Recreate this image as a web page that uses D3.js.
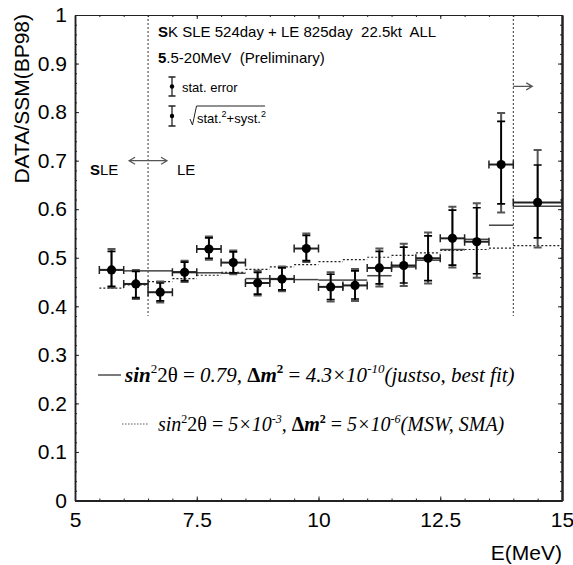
<!DOCTYPE html>
<html>
<head>
<meta charset="utf-8">
<script src="https://cdn.jsdelivr.net/npm/d3@7"></script>
<style>
  html, body { margin: 0; padding: 0; background: #fff; }
  svg { display: block; }
  text { white-space: pre; }
</style>
</head>
<body>
<svg id="chart" width="573" height="565"></svg>
<script>
// Super-Kamiokande SLE + LE energy spectrum, DATA/SSM(BP98) ratio per energy bin
const binCenter = [5.75, 6.25, 6.75, 7.25, 7.75, 8.25, 8.75, 9.25, 9.75, 10.25, 10.75, 11.25, 11.75, 12.25, 12.75, 13.25, 13.75, 14.5];
const binLow    = [5.5, 6.0, 6.5, 7.0, 7.5, 8.0, 8.5, 9.0, 9.5, 10.0, 10.5, 11.0, 11.5, 12.0, 12.5, 13.0, 13.5, 14.0];
const binHigh   = [6.0, 6.5, 7.0, 7.5, 8.0, 8.5, 9.0, 9.5, 10.0, 10.5, 11.0, 11.5, 12.0, 12.5, 13.0, 13.5, 14.0, 15.0];
const ratio     = [0.475, 0.446, 0.429, 0.470, 0.518, 0.490, 0.448, 0.456, 0.519, 0.440, 0.443, 0.479, 0.484, 0.499, 0.540, 0.533, 0.692, 0.614];
// stat. errors (inner caps)
const statUp    = [0.038, 0.026, 0.019, 0.021, 0.023, 0.022, 0.022, 0.023, 0.027, 0.026, 0.030, 0.034, 0.038, 0.046, 0.058, 0.070, 0.089, 0.077];
const statDn    = [0.034, 0.028, 0.018, 0.017, 0.019, 0.021, 0.023, 0.022, 0.025, 0.026, 0.028, 0.033, 0.036, 0.046, 0.055, 0.066, 0.081, 0.073];
// sqrt(stat^2 + syst^2) errors (outer caps)
const totUp     = [0.043, 0.029, 0.022, 0.024, 0.026, 0.025, 0.025, 0.026, 0.031, 0.030, 0.034, 0.040, 0.045, 0.053, 0.065, 0.079, 0.106, 0.108];
const totDn     = [0.037, 0.031, 0.021, 0.020, 0.022, 0.024, 0.026, 0.025, 0.028, 0.030, 0.032, 0.038, 0.042, 0.052, 0.060, 0.074, 0.099, 0.093];
// oscillation expectations per bin
const justsoBestFit = [0.475, 0.473, 0.473, 0.471, 0.469, 0.468, 0.457, 0.457, 0.455, 0.454, 0.454, 0.463, 0.481, 0.495, 0.517, 0.538, 0.567, 0.606];
const mswSMA        = [0.4375, 0.444, 0.451, 0.457, 0.464, 0.470, 0.476, 0.481, 0.486, 0.492, 0.496, 0.501, 0.505, 0.510, 0.515, 0.517, 0.520, 0.525];
// SLE / LE threshold and the upper analysis bin edge
const boundaryE = [6.5, 14.0];
const boundaryTop = 0.38;

const xTickLabels = [5, 7.5, 10, 12.5, 15];
const yTickLabels = [0, 0.1, 0.2, 0.3, 0.4, 0.5, 0.6, 0.7, 0.8, 0.9, 1];

const svg = d3.select("#chart");
const x = d3.scaleLinear().domain([5, 15]).range([75, 562]);
const y = d3.scaleLinear().domain([0, 1]).range([500.5, 15]);

const SANS = "'Liberation Sans', Arial, sans-serif";
const SERIF = "'Liberation Serif', 'Times New Roman', serif";

// ---- axes ----
function styleAxis(g, width) {
  g.select(".domain").attr("stroke", "#222").attr("stroke-width", width);
  g.selectAll(".tick line").attr("stroke", "#222").attr("stroke-width", 1);
}
const minorX = x.ticks(20);
const minorY = y.ticks(50);

// bottom
svg.append("g").attr("transform", `translate(0,${y(0)})`)
  .call(d3.axisBottom(x).tickValues(minorX).tickSizeInner(-2).tickSizeOuter(0).tickFormat(""))
  .call(g => styleAxis(g, 2));
svg.append("g").attr("transform", `translate(0,${y(0)})`)
  .call(d3.axisBottom(x).tickValues(xTickLabels).tickSizeInner(-4).tickSizeOuter(0).tickPadding(12)
    .tickFormat(d => String(d)))
  .call(g => styleAxis(g, 2))
  .call(g => g.selectAll("text").attr("font-family", SANS).attr("font-size", 21).attr("fill", "#000"));
// top
svg.append("g").attr("transform", `translate(0,${y(1)})`)
  .call(d3.axisTop(x).tickValues(minorX).tickSizeInner(-2).tickSizeOuter(0).tickFormat(""))
  .call(g => styleAxis(g, 1.2));
svg.append("g").attr("transform", `translate(0,${y(1)})`)
  .call(d3.axisTop(x).tickValues(xTickLabels).tickSizeInner(-4).tickSizeOuter(0).tickFormat(""))
  .call(g => styleAxis(g, 1.2));
// left
svg.append("g").attr("transform", `translate(${x(5)},0)`)
  .call(d3.axisLeft(y).tickValues(minorY).tickSizeInner(-2).tickSizeOuter(0).tickFormat(""))
  .call(g => styleAxis(g, 1.5));
svg.append("g").attr("transform", `translate(${x(5)},0)`)
  .call(d3.axisLeft(y).tickValues(yTickLabels).tickSizeInner(-4).tickSizeOuter(0).tickPadding(8)
    .tickFormat(d => String(d)))
  .call(g => styleAxis(g, 1.5))
  .call(g => g.selectAll("text").attr("font-family", SANS).attr("font-size", 21).attr("fill", "#000"));
// right
svg.append("g").attr("transform", `translate(${x(15)},0)`)
  .call(d3.axisRight(y).tickValues(minorY).tickSizeInner(-2).tickSizeOuter(0).tickFormat(""))
  .call(g => styleAxis(g, 2));
svg.append("g").attr("transform", `translate(${x(15)},0)`)
  .call(d3.axisRight(y).tickValues(yTickLabels).tickSizeInner(-4).tickSizeOuter(0).tickFormat(""))
  .call(g => styleAxis(g, 2));

// axis titles
svg.append("text")
  .attr("transform", `translate(29,${y(1) - 1}) rotate(-90)`)
  .attr("text-anchor", "end")
  .attr("font-family", SANS).attr("font-size", 21)
  .text("DATA/SSM(BP98)");
svg.append("text")
  .attr("x", x(15)).attr("y", 560)
  .attr("text-anchor", "end")
  .attr("font-family", SANS).attr("font-size", 21)
  .text("E(MeV)");

// ---- SLE/LE boundary and upper bin edge ----
svg.append("g").selectAll("line").data(boundaryE).join("line")
  .attr("x1", d => x(d)).attr("x2", d => x(d))
  .attr("y1", y(1)).attr("y2", y(boundaryTop))
  .attr("stroke", "#333").attr("stroke-width", 1).attr("stroke-dasharray", "2,2");

// ---- expectation step lines ----
const steps = svg.append("g");
steps.selectAll("line.sma").data(mswSMA).join("line").attr("class", "sma")
  .attr("x1", (d, i) => x(binLow[i])).attr("x2", (d, i) => x(binHigh[i]))
  .attr("y1", d => y(d)).attr("y2", d => y(d))
  .attr("stroke", "#222").attr("stroke-width", 1.2).attr("stroke-dasharray", "2,2");
steps.selectAll("line.js").data(justsoBestFit).join("line").attr("class", "js")
  .attr("x1", (d, i) => x(binLow[i])).attr("x2", (d, i) => x(binHigh[i]))
  .attr("y1", d => y(d)).attr("y2", d => y(d))
  .attr("stroke", "#444").attr("stroke-width", 1.5);

// ---- data points with error bars ----
const capW = 4;
const pts = svg.append("g").selectAll("g").data(binCenter).join("g");
// horizontal bin-width bars
pts.append("line")
  .attr("x1", (d, i) => x(binLow[i])).attr("x2", (d, i) => x(binHigh[i]))
  .attr("y1", (d, i) => y(ratio[i])).attr("y2", (d, i) => y(ratio[i]))
  .attr("stroke", "#222").attr("stroke-width", 2);
pts.append("path")
  .attr("d", (d, i) => {
    const yy = y(ratio[i]);
    return `M${x(binLow[i])},${yy - capW}V${yy + capW}M${x(binHigh[i])},${yy - capW}V${yy + capW}`;
  })
  .attr("stroke", "#222").attr("stroke-width", 1.5).attr("fill", "none");
// total (stat+syst) error
pts.append("path")
  .attr("d", (d, i) => {
    const cx = x(d), t = y(ratio[i] + totUp[i]), b = y(ratio[i] - totDn[i]);
    return `M${cx},${t}V${b}M${cx - capW},${t}H${cx + capW}M${cx - capW},${b}H${cx + capW}`;
  })
  .attr("stroke", "#555").attr("stroke-width", 2).attr("fill", "none");
// stat error
pts.append("path")
  .attr("d", (d, i) => {
    const cx = x(d), t = y(ratio[i] + statUp[i]), b = y(ratio[i] - statDn[i]);
    return `M${cx},${t}V${b}M${cx - capW},${t}H${cx + capW}M${cx - capW},${b}H${cx + capW}`;
  })
  .attr("stroke", "#000").attr("stroke-width", 1.7).attr("fill", "none");
pts.append("circle")
  .attr("cx", d => x(d)).attr("cy", (d, i) => y(ratio[i]))
  .attr("r", 4.6).attr("fill", "#000");

// ---- SLE <-> LE arrows ----
const arrowY = y(0.7);
const bx = x(boundaryE[0]);
svg.append("path")
  .attr("d", `M${bx - 19},${arrowY}H${bx + 19}M${bx - 13},${arrowY - 3.5}L${bx - 19},${arrowY}L${bx - 13},${arrowY + 3.5}` +
             `M${bx + 13},${arrowY - 3.5}L${bx + 19},${arrowY}L${bx + 13},${arrowY + 3.5}`)
  .attr("stroke", "#555").attr("stroke-width", 1.2).attr("fill", "none");
const sle = svg.append("text").attr("x", 90).attr("y", 175)
  .attr("font-family", SANS).attr("font-size", 15);
sle.append("tspan").attr("font-weight", "bold").text("S");
sle.append("tspan").text("LE");
svg.append("text").attr("x", 177).attr("y", 175)
  .attr("font-family", SANS).attr("font-size", 15).text("LE");

const rx = x(boundaryE[1]), ry = y(0.853);
svg.append("path")
  .attr("d", `M${rx},${ry}H${rx + 19}M${rx + 13},${ry - 3.5}L${rx + 19},${ry}L${rx + 13},${ry + 3.5}`)
  .attr("stroke", "#555").attr("stroke-width", 1.2).attr("fill", "none");

// ---- header ----
const h1 = svg.append("text").attr("x", 158).attr("y", 37)
  .attr("font-family", SANS).attr("font-size", 15);
h1.append("tspan").attr("font-weight", "bold").text("S");
h1.append("tspan").text("K SLE 524day + LE 825day  22.5kt  ALL");
const h2 = svg.append("text").attr("x", 158).attr("y", 63)
  .attr("font-family", SANS).attr("font-size", 15);
h2.append("tspan").attr("font-weight", "bold").text("5");
h2.append("tspan").text(".5-20MeV  (Preliminary)");

// ---- error legend ----
function legendBar(cx, top, bottom) {
  svg.append("path")
    .attr("d", `M${cx},${top}V${bottom}M${cx - 3.5},${top}H${cx + 3.5}M${cx - 3.5},${bottom}H${cx + 3.5}`)
    .attr("stroke", "#222").attr("stroke-width", 1.3).attr("fill", "none");
  svg.append("circle").attr("cx", cx).attr("cy", (top + bottom) / 2).attr("r", 2.2).attr("fill", "#000");
}
legendBar(172, 77, 96);
legendBar(172, 106, 126);
svg.append("text").attr("x", 182).attr("y", 92)
  .attr("font-family", SANS).attr("font-size", 13).text("stat. error");
svg.append("path")
  .attr("d", "M190,119L192.5,125L196.5,106H265")
  .attr("stroke", "#222").attr("stroke-width", 1).attr("fill", "none");
const st = svg.append("text").attr("x", 197).attr("y", 123)
  .attr("font-family", SANS).attr("font-size", 13);
st.append("tspan").text("stat.");
st.append("tspan").attr("font-size", 9).attr("dy", -6).text("2");
st.append("tspan").attr("dy", 6).text("+syst.");
st.append("tspan").attr("font-size", 9).attr("dy", -6).text("2");

// ---- model legend ----
function modelLegend(lineX1, lineX2, ty, textX, fs, sinBold, mix, dm, dmExp, dash, color, label) {
  const ly = ty - 7;
  const sup = Math.round(fs * 0.62), lift = Math.round(fs * 0.42);
  svg.append("line").attr("x1", lineX1).attr("x2", lineX2).attr("y1", ly).attr("y2", ly)
    .attr("stroke", color).attr("stroke-width", dash ? 1 : 1.3)
    .attr("stroke-dasharray", dash ? "1.5,1.5" : null);
  const t = svg.append("text").attr("x", textX).attr("y", ty)
    .attr("font-family", SERIF).attr("font-size", fs);
  t.append("tspan").attr("font-style", "italic").attr("font-weight", sinBold ? "bold" : "normal").text("sin");
  t.append("tspan").attr("font-size", sup).attr("dy", -lift).text("2");
  t.append("tspan").attr("dy", lift).text("2θ = ");
  mix.forEach(m => {
    const s = t.append("tspan").attr("font-style", "italic");
    if (m.sup) s.attr("font-size", sup).attr("dy", -lift).text(m.text);
    else s.attr("dy", m.after ? lift : null).text(m.text);
  });
  t.append("tspan").attr("font-weight", "bold").text("Δ");
  t.append("tspan").attr("font-weight", "bold").attr("font-style", "italic").text("m");
  t.append("tspan").attr("font-weight", "bold").attr("font-size", sup).attr("dy", -lift).text("2");
  t.append("tspan").attr("dy", lift).text(" = ");
  t.append("tspan").attr("font-style", "italic").text(dm);
  t.append("tspan").attr("font-style", "italic").attr("font-size", sup).attr("dy", -lift).text(dmExp);
  t.append("tspan").attr("font-style", "italic").attr("dy", lift).text(label);
}
modelLegend(98, 121, 382, 125, 21, true,
  [{ text: "0.79, " }], "4.3×10", "-10", false, "#333", "(justso, best fit)");
modelLegend(122, 148, 431, 158, 20, false,
  [{ text: "5×10" }, { text: "-3", sup: true }, { text: ", ", after: true }], "5×10", "-6", true, "#555", "(MSW, SMA)");
</script>
</body>
</html>
